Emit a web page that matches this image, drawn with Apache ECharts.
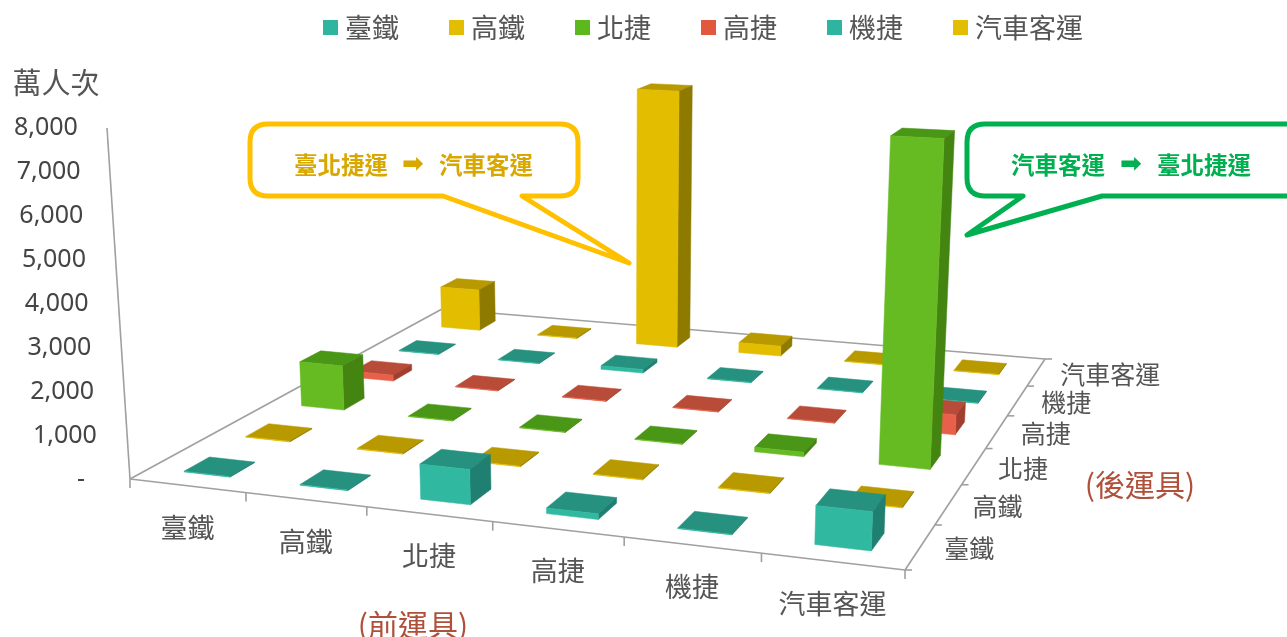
<!DOCTYPE html>
<html>
<head>
<meta charset="utf-8">
<style>html,body{margin:0;padding:0;background:#fff}#c{width:1287px;height:637px}</style>
<script src="https://cdn.jsdelivr.net/npm/echarts@6/dist/echarts.min.js"></script>
</head>
<body>
<div id="c"></div>
<script>
// ---- data (萬人次) ----
var frontModes = ['臺鐵','高鐵','北捷','高捷','機捷','汽車客運'];
var backModes  = ['臺鐵','高鐵','北捷','高捷','機捷','汽車客運'];
var yTicks = [0,1000,2000,3000,4000,5000,6000,7000,8000];
var valsTRA  = [15,15,810,130,15,850];
var valsHSR  = [15,15,15,15,15,15];
var valsTRTC = [1150,15,15,15,110,7600];
var valsKRTC = [160,15,15,15,15,500];
var valsTYMC = [15,15,100,15,15,15];
var valsBus  = [1180,15,7100,280,15,15];
var rows = [valsTRA,valsHSR,valsTRTC,valsKRTC,valsTYMC,valsBus];

// ---- colours ----
var faceFront = ['#30B9A0','#E3BD00','#66BB22','#E8604A','#30B9A0','#E3BD00'];
var faceTop   = ['#26917E','#B89A00','#4A9616','#B84C38','#26917E','#B89A00'];
var faceSide  = ['#1F7F70','#8F7A00','#438510','#A03F2D','#1F7F70','#8F7A00'];
var legendCol = ['#2DB5A0','#E3BD00','#5DB81E','#E2583F','#2DB5A0','#E3BD00'];
var textCol = '#555555', axisCol = '#A0A0A0', cjk = '"Noto Sans CJK TC"';

// ---- perspective camera: floor quad + vertical vanishing point ----
var A=[130,479],B=[905,570],C=[1045,359],D=[442,309],VP=[616,7900],Ktop=-351/(VP[1]-128);
var sx=A[0]-B[0]+C[0]-D[0], sy=A[1]-B[1]+C[1]-D[1];
var dx1=B[0]-C[0], dx2=D[0]-C[0], dy1=B[1]-C[1], dy2=D[1]-C[1], det=dx1*dy2-dx2*dy1;
var g=(sx*dy2-dx2*sy)/det, h=(dx1*sy-sx*dy1)/det;
var a=B[0]-A[0]+g*B[0], b=D[0]-A[0]+h*D[0], d=B[1]-A[1]+g*B[1], e=D[1]-A[1]+h*D[1];
function proj(u,v,z){
  var w=g*u+h*v+1+Ktop*z;
  return [(a*u+b*v+A[0]+Ktop*z*VP[0])/w,(d*u+e*v+A[1]+Ktop*z*VP[1])/w];
}
function zOf(api,val){
  var y0=api.coord([0,0])[1], y1=api.coord([0,8000])[1];
  return (y0-api.coord([0,val])[1])/(y0-y1);
}
function poly(pts,fill){return {type:'polygon',shape:{points:pts},style:{fill:fill,stroke:fill,lineWidth:0.5}};}
function line(p,q,w){return {type:'line',shape:{x1:p[0],y1:p[1],x2:q[0],y2:q[1]},style:{stroke:axisCol,lineWidth:w||1.6}};}
function label(x,y,t,al,size){return {type:'text',x:x,y:y,style:{text:t,fill:textCol,fontSize:size,fontFamily:cjk,align:al,verticalAlign:'middle'}};}

function barSeries(r){
  return {
    name:backModes[r], type:'custom', coordinateSystem:'cartesian2d', z:3,
    itemStyle:{color:legendCol[r]}, silent:true, clip:false,
    encode:{x:0,y:1},
    data:rows[r].map(function(v,i){return [i,v];}),
    renderItem:function(params,api){
      var col=api.value(0), z=zOf(api,api.value(1)), wu=0.40/6/2, wv=0.40/6/2;
      var u=(col+0.5)/6, v=(r+0.5)/6;
      var u0=u-wu,u1=u+wu,v0=v-wv,v1=v+wv;
      return {type:'group',children:[
        poly([proj(u0,v0,z),proj(u1,v0,z),proj(u1,v1,z),proj(u0,v1,z)],faceTop[r]),
        poly([proj(u1,v0,0),proj(u1,v1,0),proj(u1,v1,z),proj(u1,v0,z)],faceSide[r]),
        poly([proj(u0,v0,0),proj(u1,v0,0),proj(u1,v0,z),proj(u0,v0,z)],faceFront[r])
      ]};
    }
  };
}
var frameSeries = {
  name:'frame', type:'custom', coordinateSystem:'cartesian2d', z:2, silent:true, clip:false,
  encode:{x:0,y:1}, data:[[0,0]],
  renderItem:function(params,api){
    var kids=[line(proj(0,0,0),proj(0,0,zOf(api,8000))),
      line(A,B),line(B,C),line(C,D),line(D,A)];
    for(var i=0;i<=6;i++){
      var p=proj(i/6,0,0); kids.push(line(p,[p[0],p[1]+9]));
      var q=proj(1,i/6,0); kids.push(line(q,[q[0]+7,q[1]]));
    }
    frontModes.forEach(function(t,i){var p=proj((i+0.5)/6,0,0);kids.push(label(p[0],p[1]+42,t,'center',27));});
    backModes.forEach(function(t,i){var p=proj(1,(i+0.5)/6,0);kids.push(label(p[0]+24,p[1]+2,t,'left',25));});
    return {type:'group',children:kids};
  }
};
function calloutPath(color,d,x,y,w,h){
  return {type:'path',shape:{pathData:d,x:x,y:y,width:w,height:h,layout:'cover'},
    style:{fill:'#fff',stroke:color,lineWidth:5,lineJoin:'round'}};
}
var calloutSeries = {
  name:'callouts', type:'custom', coordinateSystem:'cartesian2d', z:1, silent:true, clip:false,
  encode:{x:0,y:1}, data:[[0,0]],
  renderItem:function(){
    return {type:'group',children:[
      calloutPath('#FFC000','M268 124 H560 Q578 124 578 142 V178 Q578 196 560 196 H522 L629 263 L443 196 H268 Q250 196 250 178 V142 Q250 124 268 124 Z',250,124,379,139),
      calloutPath('#00B050','M985 124 H1295 V196 H1102 L967 235 L1023 196 H985 Q967 196 967 178 V142 Q967 124 985 124 Z',967,124,328,111)
    ]};
  }
};
var series=[calloutSeries,frameSeries];
for(var r=5;r>=0;r--) series.push(barSeries(r));

function fmtTick(v){return v===0?'-':(v/1000)+',000';}
var rich={};
yTicks.forEach(function(v){rich['t'+v]={padding:[0,v===0?15:0.5+2.71*v/1000,0,0],fontSize:25,color:'#444',fontFamily:'"Noto Sans"'};});

function calloutText(x,t,color){return {type:'text',x:x,y:165,style:{text:t,fill:color,fontSize:23.5,fontWeight:'bold',fontFamily:cjk,align:'center',verticalAlign:'middle'},z:11};}
function calloutArrow(x,color){return {type:'text',x:x,y:165,style:{text:'➡',fill:color,fontSize:26,fontWeight:'bold',fontFamily:'"DejaVu Sans"',align:'center',verticalAlign:'middle'},z:11};}
function plainText(x,y,t,color,size){return {type:'text',x:x,y:y,style:{text:t,fill:color,fontSize:size,fontFamily:cjk,align:'center',verticalAlign:'middle'},z:11};}

var chart=echarts.init(document.getElementById('c'),null,{renderer:'canvas'});
chart.setOption({
  animation:false, backgroundColor:'#fff',
  legend:{data:backModes.map(function(n){return {name:n};}),left:318,top:9,itemWidth:15,itemHeight:15,itemGap:50,icon:'rect',
    selectedMode:false,textStyle:{fontSize:27,color:textCol,fontFamily:cjk,padding:[0,0,0,2]}},
  grid:{left:100,top:128,width:805,height:352,containLabel:false},
  xAxis:{type:'category',data:frontModes,show:false},
  yAxis:{type:'value',min:0,max:8000,interval:1000,
    axisLine:{show:false},axisTick:{show:false},splitLine:{show:false},
    axisLabel:{margin:0,formatter:function(v){return '{t'+v+'|'+fmtTick(v)+'}';},rich:rich}},
  series:series,
  graphic:[
    calloutText(341,'臺北捷運','#D9A800'),calloutArrow(413,'#D9A800'),calloutText(486,'汽車客運','#D9A800'),
    calloutText(1058,'汽車客運','#00B050'),calloutArrow(1131,'#00B050'),calloutText(1204,'臺北捷運','#00B050'),
    plainText(56,83,'萬人次',textCol,29),
    plainText(413,625,'(前運具)','#B0503A',30),
    plainText(1140,485,'(後運具)','#B0503A',30)
  ]
});
</script>
</body>
</html>
